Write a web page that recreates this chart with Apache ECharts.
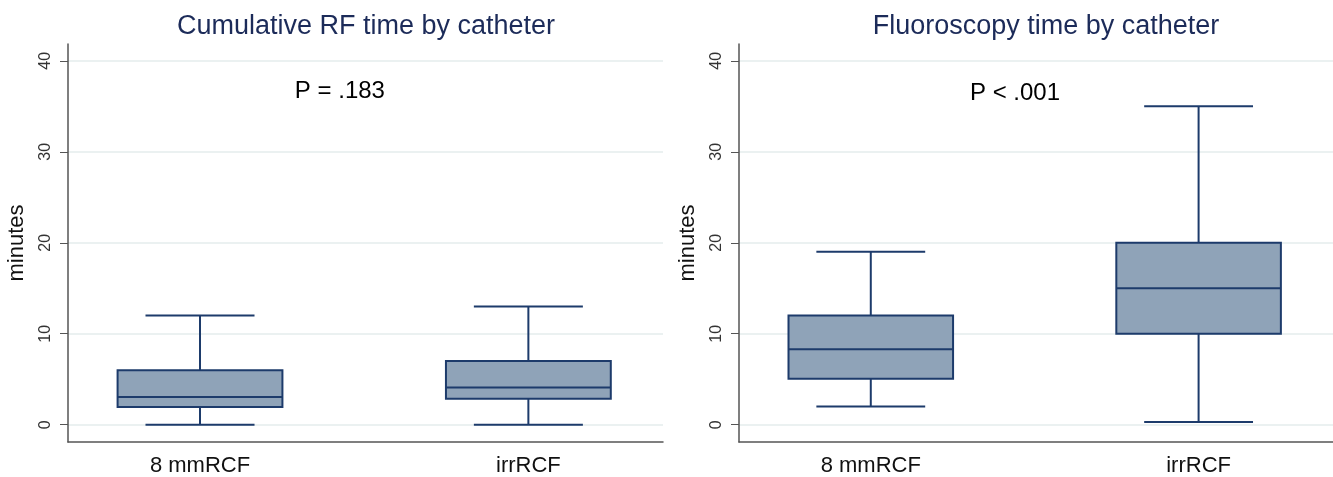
<!DOCTYPE html>
<html>
<head>
<meta charset="utf-8">
<title>RF and fluoroscopy time by catheter</title>
<script src="https://cdn.jsdelivr.net/npm/echarts@6/dist/echarts.min.js"></script>
<style>
  html, body { margin: 0; padding: 0; background: #fff; }
  #chart { width: 1333px; height: 477px; }
</style>
</head>
<body>
<div id="chart"></div>
<script>
// box stats per catheter: [min, q1, median, q3, max] in minutes
const categories = ['8 mmRCF', 'irrRCF'];
const rfStats = [
  [0, 1.95, 3.05, 6, 12],
  [0, 2.85, 4.1, 7, 13]
];
const fluoroStats = [
  [2, 5.05, 8.3, 12, 19],
  [0.3, 10, 15, 20, 35]
];
const yTicks = [0, 10, 20, 30, 40];
const titles = ['Cumulative RF time by catheter', 'Fluoroscopy time by catheter'];
const pLabels = ['P = .183', 'P < .001'];
const pPos = [[1.426, 36.6], [1.44, 36.4]];

const font = "'Liberation Sans', Arial, sans-serif";
const boxFill = '#8fa3b8';
const boxLine = '#1d3b6b';
const BOX_HALF = 0.251;
const CAP_HALF = 0.166;

const chart = echarts.init(document.getElementById('chart'), null, { renderer: 'canvas' });

function renderBox(params, api) {
  const x = api.value(0);
  const lo = api.value(1), q1 = api.value(2), med = api.value(3), q3 = api.value(4), hi = api.value(5);
  const c = (xx, yy) => api.coord([xx, yy]);
  const boxTL = c(x - BOX_HALF, q3);
  const boxBR = c(x + BOX_HALF, q1);
  const stroke = { stroke: boxLine, lineWidth: 2 };
  const line = (p1, p2) => ({
    type: 'line',
    shape: { x1: p1[0], y1: p1[1], x2: p2[0], y2: p2[1] },
    style: stroke
  });
  return {
    type: 'group',
    children: [
      line(c(x, hi), c(x, q3)),
      line(c(x, q1), c(x, lo)),
      line(c(x - CAP_HALF, hi), c(x + CAP_HALF, hi)),
      line(c(x - CAP_HALF, lo), c(x + CAP_HALF, lo)),
      {
        type: 'rect',
        shape: { x: boxTL[0], y: boxTL[1], width: boxBR[0] - boxTL[0], height: boxBR[1] - boxTL[1] },
        style: { fill: boxFill, stroke: boxLine, lineWidth: 2 }
      },
      line(c(x - BOX_HALF, med), c(x + BOX_HALF, med))
    ]
  };
}

function boxData(stats) {
  return stats.map((s, i) => [i + 1].concat(s));
}

const grids = [
  { left: 68, right: 670, top: 44, bottom: 32.5 },
  { left: 739, right: 0, top: 44, bottom: 32.5 }
];

const xAxes = grids.map((g, i) => ({
  type: 'value',
  gridIndex: i,
  min: 0.598,
  max: 2.41,
  axisLine: { show: true, onZero: false, lineStyle: { color: '#555', width: 1.5 } },
  axisTick: { show: false },
  splitLine: { show: false },
  axisLabel: {
    customValues: [1, 2],
    formatter: v => categories[Math.round(v) - 1] || '',
    fontFamily: font,
    fontSize: 22,
    color: '#111',
    margin: 13
  }
}));

const yAxes = grids.map((g, i) => ({
  type: 'value',
  gridIndex: i,
  min: -1.9,
  max: 41.85,
  name: 'minutes',
  nameLocation: 'middle',
  nameRotate: 90,
  nameGap: 40,
  nameTextStyle: { fontFamily: font, fontSize: 22, color: '#111' },
  axisLine: { show: true, onZero: false, lineStyle: { color: '#555', width: 1.5 } },
  axisTick: { show: true, customValues: yTicks, length: 8, lineStyle: { color: '#555', width: 1 } },
  splitLine: { show: true, lineStyle: { color: '#e4eced', width: 1.5 } },
  axisLabel: {
    customValues: yTicks,
    rotate: 90,
    fontFamily: font,
    fontSize: 16,
    color: '#333',
    margin: 14
  }
}));

const option = {
  animation: false,
  backgroundColor: '#fff',
  title: [
    { text: titles[0], left: 366, top: 13, textAlign: 'center', padding: 0,
      textStyle: { fontFamily: font, fontSize: 27, fontWeight: 'normal', color: '#1c2b59' } },
    { text: titles[1], left: 1046, top: 13, textAlign: 'center', padding: 0,
      textStyle: { fontFamily: font, fontSize: 27, fontWeight: 'normal', color: '#1c2b59' } }
  ],
  grid: grids,
  xAxis: xAxes,
  yAxis: yAxes,
  series: [
    { type: 'custom', xAxisIndex: 0, yAxisIndex: 0, renderItem: renderBox,
      encode: { x: 0, y: [1, 2, 3, 4, 5] }, data: boxData(rfStats) },
    { type: 'custom', xAxisIndex: 1, yAxisIndex: 1, renderItem: renderBox,
      encode: { x: 0, y: [1, 2, 3, 4, 5] }, data: boxData(fluoroStats) }
  ].concat(pLabels.map((txt, i) => ({
    type: 'scatter',
    xAxisIndex: i,
    yAxisIndex: i,
    symbolSize: 0,
    silent: true,
    itemStyle: { opacity: 1 },
    data: [pPos[i]],
    label: {
      show: true,
      position: 'inside',
      formatter: txt,
      fontFamily: font,
      fontSize: 24,
      color: '#000',
      opacity: 1
    }
  })))
};

chart.setOption(option);
</script>
</body>
</html>
